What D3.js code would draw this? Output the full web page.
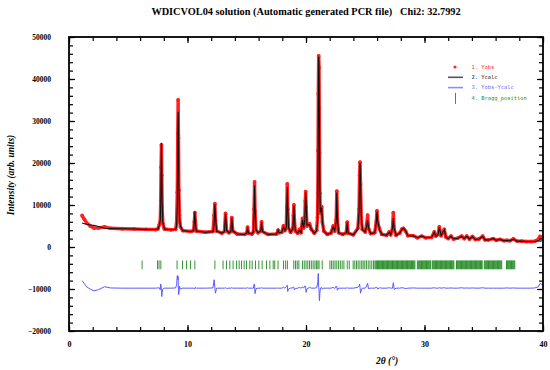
<!DOCTYPE html>
<html>
<head>
<meta charset="utf-8">
<script src="https://cdn.jsdelivr.net/npm/d3@7"></script>
<style>
  body { margin: 0; background: #fff; }
  svg { display: block; }
</style>
</head>
<body>
<svg width="550" height="370"></svg>
<script>
// profile rows: [2theta, Yobs, Ycalc]
const profile = [
  [1.1,7500,5700],[1.3,6600,5550],[1.5,5700,5400],[1.8,5000,5250],[2.1,4500,5150],[2.5,4550,4900],
  [3.0,4800,4450],[3.5,4450,4400],[4.5,4350,4350],[5.5,4300,4300],[6.5,4200,4200],[7.3,4150,4150],
  [7.5,4300,4250],[7.62,5300,5200],[7.70,6000,6400],[7.74,11000,10000],[7.77,19000,18500],[7.80,24300,24800],
  [7.83,17000,19000],[7.86,9500,10500],[7.92,5600,5800],[8.05,4300,4300],[8.6,4100,4100],[9.0,4200,4150],
  [9.08,5800,5000],[9.14,13000,10000],[9.18,27000,25000],[9.21,35000,32200],[9.24,26000,27500],[9.27,13500,15000],
  [9.32,7500,7000],[9.40,4800,5000],[9.6,3900,3900],[10.3,3700,3700],
  [10.52,3900,3900],[10.58,6000,6200],[10.62,8200,8400],[10.66,6200,6000],[10.74,3800,3800],[11.5,3500,3500],
  [12.15,3700,3650],[12.25,7500,5500],[12.31,10300,10200],[12.36,6300,7500],[12.45,3800,3800],[12.9,3300,3300],
  [13.12,3700,3700],[13.21,8000,7900],[13.30,3900,3950],[13.5,3400,3400],
  [13.66,3700,3700],[13.74,7000,6900],[13.82,3800,3800],[14.2,3100,3100],[14.8,3000,3000],
  [15.0,3300,3300],[15.07,4700,4600],[15.14,3300,3300],[15.45,3100,3100],
  [15.56,3600,3600],[15.62,9000,8000],[15.66,15500,14700],[15.70,8500,9800],[15.78,4000,4100],[15.95,3400,3400],
  [16.18,3800,3800],[16.25,6000,5900],[16.32,3700,3700],[16.8,3000,3000],[17.5,3100,3100],
  [17.6,3500,3500],[17.65,4000,4000],[17.72,3400,3400],[17.95,3500,3500],
  [18.1,5000,4800],[18.22,3900,3900],
  [18.34,5000,4700],[18.38,9500,9000],[18.42,15000,14300],[18.46,9000,9800],[18.52,4500,4700],[18.7,3500,3500],
  [18.9,4500,4400],[18.94,7500,7200],[18.98,10000,9800],[19.02,6500,6900],[19.1,3800,3900],[19.3,3300,3300],
  [19.45,4200,4000],[19.58,3400,3400],
  [19.71,6800,6500],[19.8,4500,4500],[19.9,7000,6500],[19.94,11000,10500],[19.97,13200,13000],[20.01,9500,10500],
  [20.08,5000,5200],[20.3,5500,5300],[20.45,4200,4200],[20.7,3300,3300],[20.9,4000,3900],
  [20.97,7000,6000],[21.0,13000,11500],[21.02,23000,20000],[21.04,36500,33000],[21.07,45500,45300],[21.1,42700,43000],
  [21.12,33000,35500],[21.14,22500,25500],[21.17,12800,14000],[21.21,8000,8200],[21.28,9000,8800],[21.32,9600,9400],
  [21.38,6000,6200],[21.5,3800,3800],[21.8,3000,3000],
  [22.1,3300,3300],[22.3,5000,4800],[22.42,3800,3900],[22.55,6500,6000],[22.6,13300,13000],[22.65,6500,7000],
  [22.75,3400,3400],[23.1,3000,3000],
  [23.4,3400,3400],[23.48,5900,5800],[23.56,3300,3300],[24.0,2900,2900],
  [24.38,4500,4300],[24.48,9000,8500],[24.52,17000,16000],[24.56,20200,20000],[24.6,15000,16200],[24.66,7000,7500],
  [24.75,4200,4200],[25.0,3600,3600],
  [25.12,5500,5000],[25.2,7600,6400],[25.27,4500,4600],[25.45,3200,3200],
  [25.8,3400,3400],[25.93,6000,5800],[25.99,8600,8400],[26.05,6000,6200],[26.2,4300,4200],[26.4,3000,3000],[26.8,2800,2800],
  [27.03,3600,3500],[27.15,2900,2900],[27.3,4500,4500],[27.37,8200,6900],[27.44,4200,4500],[27.6,2800,2800],
  [27.9,3300,3300],[28.1,4300,4200],[28.22,4450,4400],[28.4,3800,3900],[28.6,2700,2700],
  [29.05,2700,2650],[29.4,2200,2200],[29.76,2600,2600],[30.1,2200,2200],[30.6,2300,2300],[30.83,3600,3500],
  [30.95,2600,2600],[31.15,3000,3000],[31.25,4800,4700],[31.4,2700,2700],[31.67,4200,4100],[31.8,2400,2400],
  [32.0,2000,2000],[32.24,2600,2550],[32.45,1900,1900],[32.8,2100,2100],[33.14,2600,2500],[33.35,2000,2000],
  [33.56,2600,2550],[33.8,1900,1900],[34.04,2500,2450],[34.3,1800,1800],[34.6,1900,1900],[34.91,2600,2500],
  [35.1,1700,1700],[35.4,1700,1700],[35.8,2000,2000],[36.05,1600,1600],[36.37,1800,1800],[36.7,1500,1500],
  [36.95,1600,1550],[37.2,1500,1500],[37.5,1900,1850],[37.8,1400,1400],[38.2,1400,1400],[38.6,1300,1300],
  [39.0,1300,1300],[39.3,1350,1300],[39.6,1800,1500],[39.75,2500,1400],[39.95,2300,1500]
];

// difference curve is drawn shifted down by this amount
const diffOffset = -9800;

// Bragg reflection positions (2theta)
const bragg = [
  6.17, 7.47, 7.60, 7.75, 9.12, 9.58, 9.92, 10.25, 10.62, 12.31, 13.00, 13.29, 13.57, 13.85, 14.14, 14.36,
  14.56, 14.78, 14.98, 15.26, 15.46, 15.74, 16.02, 16.30, 16.67, 16.95, 17.23, 17.36, 17.64, 18.10, 18.28,
  18.43, 18.97, 19.12, 19.26, 19.40, 19.70, 19.85, 20.00, 20.15, 20.30, 20.45, 20.60, 20.75, 20.88, 21.00,
  21.10, 21.37, 22.02, 22.16, 22.30, 22.45, 22.60, 22.75, 22.90, 23.05, 23.20, 23.48, 23.65, 23.98, 24.12,
  24.26, 24.40, 24.55, 24.70, 24.82, 24.96, 25.10, 25.25, 25.40, 25.55, 25.70, 25.82,
  25.90, 25.97, 26.04, 26.11, 26.18, 26.25, 26.32, 26.39, 26.46, 26.53, 26.60, 26.67, 26.74, 26.81, 26.88,
  26.95, 27.02, 27.09, 27.16, 27.23, 27.30, 27.37, 27.44, 27.51, 27.58, 27.65, 27.72, 27.79, 27.86, 27.93,
  28.00, 28.07, 28.14, 28.21, 28.28, 28.35, 28.42, 28.49, 28.56, 28.63, 28.70, 28.77, 28.84, 28.91, 28.98,
  29.05, 29.12, 29.19, 29.40, 29.47, 29.54, 29.61, 29.68, 29.75, 29.82, 29.89, 29.96, 30.03, 30.10, 30.17,
  30.24, 30.31, 30.38, 30.45, 30.52, 30.66, 30.73, 30.80, 30.87, 30.94, 31.01, 31.08, 31.15, 31.22, 31.29,
  31.36, 31.43, 31.50, 31.57, 31.64, 31.71, 31.78, 31.85, 31.92, 31.99, 32.06, 32.13, 32.20, 32.27, 32.34,
  32.41, 32.48, 32.70, 32.77, 32.84, 32.91, 32.98, 33.05, 33.12, 33.19, 33.26, 33.33, 33.40, 33.47, 33.54,
  33.61, 33.68, 33.75, 33.82, 33.89, 33.96, 34.03, 34.10, 34.17, 34.24, 34.31, 34.38, 34.45, 34.52, 34.59,
  34.66, 34.73, 34.80, 34.87, 35.05, 35.12, 35.19, 35.26, 35.33, 35.40, 35.47, 35.54, 35.61, 35.68, 35.75,
  35.82, 35.89, 35.96, 36.03, 36.10, 36.17, 36.24, 36.31, 36.38, 36.45, 36.52, 36.92, 36.99, 37.06, 37.13,
  37.20, 37.27, 37.34, 37.41, 37.48, 37.55, 37.62
];

const xMajor = [0, 10, 20, 30, 40];
const yMajor = [-20000, -10000, 0, 10000, 20000, 30000, 40000, 50000];

const legendItems = [
  { label: "1. Yobs", color: "#ff2a2a", kind: "dot" },
  { label: "2. Ycalc", color: "#222222", kind: "line" },
  { label: "3. Yobs-Ycalc", color: "#6a6aff", kind: "line" },
  { label: "4. Bragg_position", color: "#1a9a1a", kind: "tick" }
];

var svg = d3.select("svg");
var pLeft = 69, pRight = 543, pTop = 37, pBottom = 331;

var x = d3.scaleLinear().domain([0, 40]).range([pLeft, pRight]);
var y = d3.scaleLinear().domain([-20000, 50000]).range([pBottom, pTop]);

var serif = "'Liberation Serif', 'Times New Roman', serif";

// title
svg.append("text")
  .attr("x", 306).attr("y", 15)
  .attr("text-anchor", "middle")
  .style("font-family", serif).style("font-weight", "bold").style("font-size", "10.3px")
  .style("white-space", "pre")
  .text("WDICVOL04 solution (Automatic generated PCR file)   Chi2: 32.7992");

svg.append("clipPath").attr("id", "plot")
  .append("rect").attr("x", pLeft).attr("y", pTop).attr("width", pRight - pLeft).attr("height", pBottom - pTop);

var g = svg.append("g").attr("clip-path", "url(#plot)");

// Yobs: thick red band + dots
var obsLine = d3.line().x(d => x(d[0])).y(d => y(d[1]));
g.append("path").datum(profile)
  .attr("d", obsLine)
  .attr("fill", "none").attr("stroke", "#ff2020").attr("stroke-width", 3.4)
  .attr("stroke-linejoin", "round");
g.selectAll(".obs").data(profile).enter().append("circle")
  .attr("class", "obs")
  .attr("cx", d => x(d[0])).attr("cy", d => y(d[1]))
  .attr("r", 1.9).attr("fill", "#ff2020");

// Ycalc
var calcLine = d3.line().x(d => x(d[0])).y(d => y(d[2]));
g.append("path").datum(profile)
  .attr("d", calcLine)
  .attr("fill", "none").attr("stroke", "#111").attr("stroke-width", 1.1);

// Yobs - Ycalc
var diffLine = d3.line().x(d => x(d[0])).y(d => y(d[1] - d[2] + diffOffset));
g.append("path").datum(profile)
  .attr("d", diffLine)
  .attr("fill", "none").attr("stroke", "#5a5aff").attr("stroke-width", 1);

// Bragg positions
g.selectAll(".bragg").data(bragg).enter().append("line")
  .attr("class", "bragg")
  .attr("x1", d => x(d)).attr("x2", d => x(d))
  .attr("y1", y(-3200)).attr("y2", y(-5300))
  .attr("stroke", "#067a06").attr("stroke-width", 1).attr("stroke-opacity", 0.8);

// axes: major + minor ticks, pointing inward on all sides
function styleAxis(sel) {
  sel.select(".domain").remove();
  sel.selectAll(".tick line").attr("stroke", "#000").attr("stroke-width", 1.2);
  sel.selectAll("text").style("font-family", serif).style("font-weight", "bold").attr("fill", "#000");
}
var xMinor = d3.range(0, 41, 2);
var yMinor = d3.range(-20000, 50001, 2000);

svg.append("g").attr("transform", `translate(0,${pBottom})`)
  .call(d3.axisBottom(x).tickValues(xMinor).tickSize(-4).tickFormat("")).call(styleAxis);
svg.append("g").attr("transform", `translate(0,${pBottom})`)
  .call(d3.axisBottom(x).tickValues(xMajor).tickSize(-6).tickPadding(10).tickFormat(d3.format("d")))
  .call(styleAxis).selectAll("text").style("font-size", "8px");
svg.append("g").attr("transform", `translate(0,${pTop})`)
  .call(d3.axisTop(x).tickValues(xMinor).tickSize(-4).tickFormat("")).call(styleAxis);
svg.append("g").attr("transform", `translate(0,${pTop})`)
  .call(d3.axisTop(x).tickValues(xMajor).tickSize(-6).tickFormat("")).call(styleAxis);

svg.append("g").attr("transform", `translate(${pLeft},0)`)
  .call(d3.axisLeft(y).tickValues(yMinor).tickSize(-4).tickFormat("")).call(styleAxis);
svg.append("g").attr("transform", `translate(${pLeft},0)`)
  .call(d3.axisLeft(y).tickValues(yMajor).tickSize(-6).tickPadding(18).tickFormat(d3.format("d")))
  .call(styleAxis).selectAll("text").style("font-size", "7.5px");
svg.append("g").attr("transform", `translate(${pRight},0)`)
  .call(d3.axisRight(y).tickValues(yMinor).tickSize(-4).tickFormat("")).call(styleAxis);
svg.append("g").attr("transform", `translate(${pRight},0)`)
  .call(d3.axisRight(y).tickValues(yMajor).tickSize(-6).tickFormat("")).call(styleAxis);

// frame
svg.append("rect")
  .attr("x", pLeft).attr("y", pTop).attr("width", pRight - pLeft).attr("height", pBottom - pTop)
  .attr("fill", "none").attr("stroke", "#000").attr("stroke-width", 1.8);

// axis titles
svg.append("text")
  .attr("transform", "translate(14,175) rotate(-90)")
  .attr("text-anchor", "middle")
  .style("font-family", serif).style("font-weight", "bold").style("font-style", "italic").style("font-size", "9.5px")
  .text("Intensity (arb. units)");
svg.append("text")
  .attr("x", 387).attr("y", 364)
  .attr("text-anchor", "middle")
  .style("font-family", serif).style("font-weight", "bold").style("font-style", "italic").style("font-size", "9.5px")
  .text("2θ (°)");

// legend
var leg = svg.append("g").selectAll("g").data(legendItems).enter().append("g")
  .attr("transform", (d, i) => `translate(0,${67 + i * 10.3})`);
leg.append("text")
  .attr("x", 471.5).attr("dy", "0.35em")
  .style("font-family", "'DejaVu Sans Mono', monospace").style("font-size", "5.4px")
  .attr("fill", d => d.color)
  .text(d => d.label);
leg.filter(d => d.kind === "dot").append("circle")
  .attr("cx", 455).attr("cy", 0).attr("r", 1.6).attr("fill", d => d.color);
leg.filter(d => d.kind === "line").append("line")
  .attr("x1", 448).attr("x2", 463).attr("stroke", d => d.label === "2. Ycalc" ? "#555" : "#8c8cff")
  .attr("stroke-width", 1.6);
leg.filter(d => d.kind === "tick").append("line")
  .attr("x1", 455.5).attr("x2", 455.5).attr("y1", -5).attr("y2", 6)
  .attr("stroke", "#2aa02a").attr("stroke-width", 1);
</script>
</body>
</html>
